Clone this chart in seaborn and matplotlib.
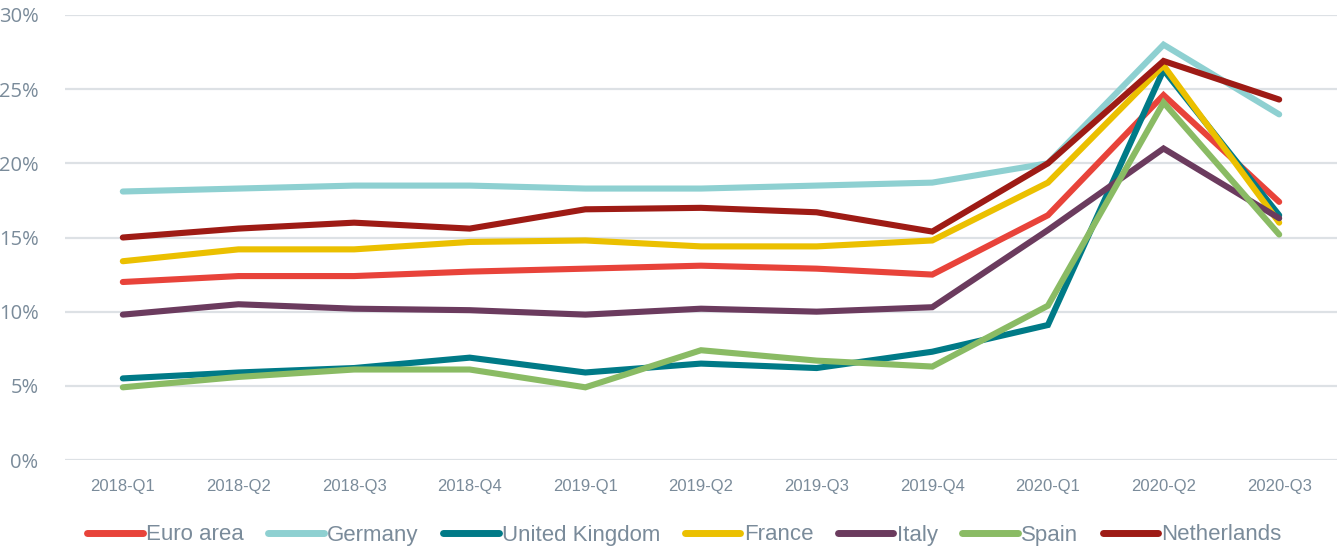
import matplotlib
matplotlib.use("Agg")
import matplotlib.pyplot as plt
import seaborn as sns
import pandas as pd
from matplotlib.ticker import FuncFormatter

quarters = ["2018-Q1", "2018-Q2", "2018-Q3", "2018-Q4", "2019-Q1", "2019-Q2",
            "2019-Q3", "2019-Q4", "2020-Q1", "2020-Q2", "2020-Q3"]

euro_area = [12.0, 12.4, 12.4, 12.7, 12.9, 13.1, 12.9, 12.5, 16.5, 24.6, 17.4]
germany = [18.1, 18.3, 18.5, 18.5, 18.3, 18.3, 18.5, 18.7, 20.0, 28.0, 23.3]
united_kingdom = [5.5, 5.9, 6.2, 6.9, 5.9, 6.5, 6.2, 7.3, 9.1, 26.3, 16.5]
france = [13.4, 14.2, 14.2, 14.7, 14.8, 14.4, 14.4, 14.8, 18.7, 26.6, 16.0]
italy = [9.8, 10.5, 10.2, 10.1, 9.8, 10.2, 10.0, 10.3, 15.5, 21.0, 16.3]
spain = [4.9, 5.6, 6.1, 6.1, 4.9, 7.4, 6.7, 6.3, 10.4, 24.1, 15.2]
netherlands = [15.0, 15.6, 16.0, 15.6, 16.9, 17.0, 16.7, 15.4, 20.0, 26.9, 24.3]

series_names = ["Euro area", "Germany", "United Kingdom", "France", "Italy", "Spain", "Netherlands"]
series_values = [euro_area, germany, united_kingdom, france, italy, spain, netherlands]
colors = ["#E8433A", "#8ED0D1", "#007A87", "#EBC000", "#6B3B5E", "#8ABB64", "#9E1B15"]

rows = []
for name, vals in zip(series_names, series_values):
    for i, (q, v) in enumerate(zip(quarters, vals)):
        rows.append({"x": i, "quarter": q, "value": v, "series": name})
df = pd.DataFrame(rows)

sns.set_theme(style="white")
plt.rcParams['font.family'] = ['Liberation Sans Narrow', 'Liberation Sans', 'DejaVu Sans']

text_color = "#7A8B9A"
fig = plt.figure(figsize=(13.39, 5.47), dpi=100)
ax = fig.add_axes([65 / 1339, 1 - 460 / 547, (1337 - 65) / 1339, (460 - 15) / 547])

sns.lineplot(data=df, x="x", y="value", hue="series", hue_order=series_names,
             palette=colors, linewidth=4.4, ax=ax, legend=True,
             solid_capstyle="round", solid_joinstyle="miter")

ax.set_xlim(-0.5, 10.5)
ax.set_ylim(0, 30)
ax.set_yticks([0, 5, 10, 15, 20, 25, 30])
ax.yaxis.set_major_formatter(FuncFormatter(lambda v, p: f"{int(v)}%"))
ax.set_xticks(range(len(quarters)))
ax.set_xticklabels(quarters)
ax.grid(axis="y", color="#DDE1E5", linewidth=1.6)
ax.grid(axis="x", visible=False)
for s in ax.spines.values():
    s.set_visible(False)
ax.set_xlabel("")
ax.set_ylabel("")
ax.tick_params(axis="y", colors=text_color, pad=19, length=0)
ax.tick_params(axis="x", labelsize=12, colors=text_color, pad=14, length=0)
for lbl in ax.get_yticklabels():
    lbl.set_family(['Open Sans', 'DejaVu Sans'])
    lbl.set_fontsize(14.5)

handles, labels = ax.get_legend_handles_labels()
ax.legend(handles, labels, loc="center", bbox_to_anchor=(0.487, (1 - 535 / 547 - (1 - 460 / 547)) / ((460 - 15) / 547)),
          ncol=7, frameon=False, fontsize=16, labelcolor=text_color,
          handlelength=2.5, handletextpad=0.15, columnspacing=1.1)
for lh in ax.get_legend().get_lines():
    lh.set_linewidth(5)
    lh.set_solid_capstyle("round")

fig.savefig("out.png", dpi=100)
